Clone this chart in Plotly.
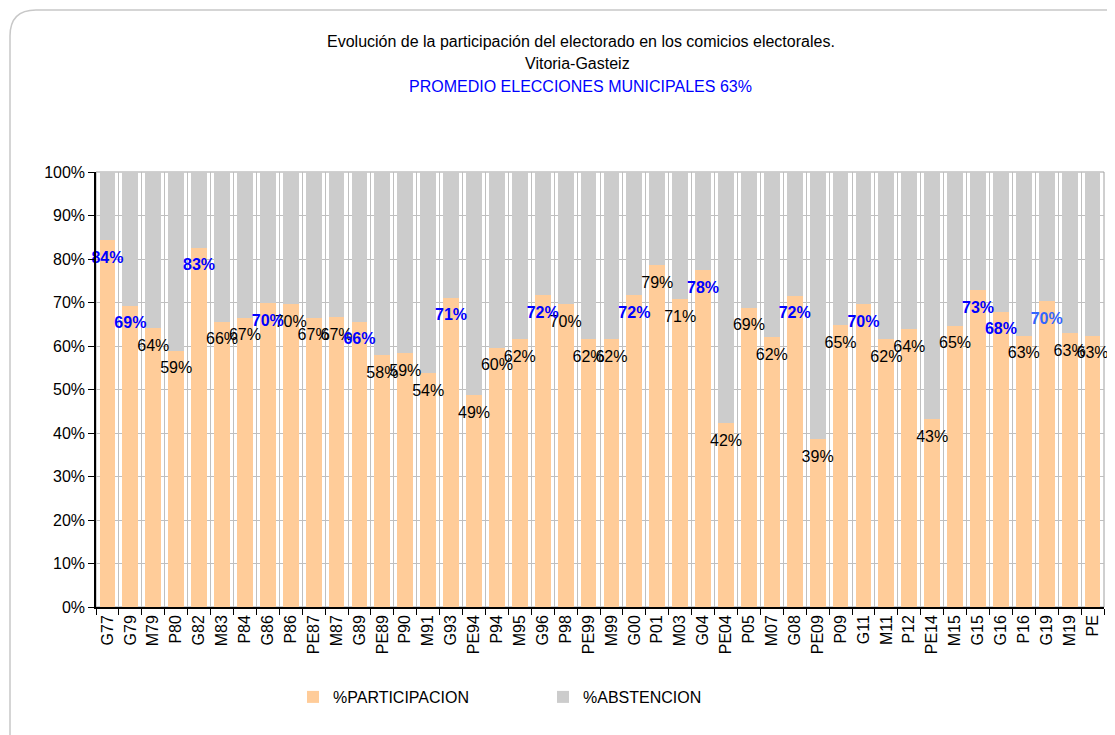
import plotly.graph_objects as go

categories = ["G77", "G79", "M79", "P80", "G82", "M83", "P84", "G86", "P86", "PE87", "M87",
              "G89", "PE89", "P90", "M91", "G93", "PE94", "P94", "M95", "G96", "P98", "PE99",
              "M99", "G00", "P01", "M03", "G04", "PE04", "P05", "M07", "G08", "PE09", "P09",
              "G11", "M11", "P12", "PE14", "M15", "G15", "G16", "P16", "G19", "M19", "PE"]

participacion = [84.4, 69.3, 64.1, 58.9, 82.6, 65.6, 66.5, 69.9, 69.7, 66.5, 66.7,
                 65.6, 57.9, 58.4, 53.8, 71.1, 48.7, 59.6, 61.6, 71.7, 69.7, 61.6,
                 61.6, 71.7, 78.6, 70.7, 77.5, 42.3, 68.8, 62.1, 71.6, 38.6, 64.8,
                 69.7, 61.5, 63.9, 43.2, 64.7, 72.9, 67.9, 62.4, 70.3, 63.0, 62.4]

abstencion = [round(100 - v, 1) for v in participacion]

labels = ["84%", "69%", "64%", "59%", "83%", "66%", "67%", "70%", "70%", "67%", "67%",
          "66%", "58%", "59%", "54%", "71%", "49%", "60%", "62%", "72%", "70%", "62%",
          "62%", "72%", "79%", "71%", "78%", "42%", "69%", "62%", "72%", "39%", "65%",
          "70%", "62%", "64%", "43%", "65%", "73%", "68%", "63%", "70%", "63%", "63%"]

LABEL_OFFSET = 4.3
FONT = "Liberation Sans, Arial, sans-serif"

fig = go.Figure()
fig.add_trace(go.Bar(x=categories, y=participacion, name="%PARTICIPACION",
                     marker=dict(color="#FFCC99", line=dict(width=0)), hoverinfo="x+y"))
fig.add_trace(go.Bar(x=categories, y=abstencion, name="%ABSTENCION",
                     marker=dict(color="#CCCCCC", line=dict(width=0)), hoverinfo="x+y"))

g_idx = [i for i, c in enumerate(categories) if c.startswith("G")]
o_idx = [i for i, c in enumerate(categories) if not c.startswith("G")]

fig.add_trace(go.Scatter(
    x=[categories[i] for i in o_idx],
    y=[participacion[i] - LABEL_OFFSET for i in o_idx],
    text=[labels[i] for i in o_idx],
    mode="text", textposition="middle center", cliponaxis=False,
    textfont=dict(family=FONT, size=16, color="#000000"),
    showlegend=False, hoverinfo="skip"))

fig.add_trace(go.Scatter(
    x=[categories[i] for i in g_idx],
    y=[participacion[i] - LABEL_OFFSET for i in g_idx],
    text=["<b>" + labels[i] + "</b>" for i in g_idx],
    mode="text", textposition="middle center", cliponaxis=False,
    textfont=dict(family=FONT, size=16,
                  color=["#3366FF" if categories[i] == "G19" else "#0000FF" for i in g_idx]),
    showlegend=False, hoverinfo="skip"))

# the page body adds an 8px margin; the figure is sized so that the plot area
# sits at window pixels x 96..1104, y 172..607
OFF = 8
W, H = 1115 - OFF, 735 - OFF
L, T = 96 - OFF, 172 - OFF
R = W - (1104 - OFF)
B = H - (607 - OFF)
pw, ph = W - L - R, H - T - B

def px(xw):
    return (xw - OFF - L) / pw

def py(yw):
    return (H - B - (yw - OFF)) / ph

shapes = [
    dict(type="rect", xref="paper", yref="paper", x0=0, x1=1, y0=0, y1=1,
         line=dict(color="#A0A0A0", width=1), layer="below"),
    dict(type="path", xref="paper", yref="paper",
         path=(f"M {px(10)} {py(745)} L {px(10)} {py(36)} "
               f"Q {px(10)} {py(10)} {px(36)} {py(10)} L {px(1125)} {py(10)}"),
         line=dict(color="#C8C8C8", width=1.5)),
]

annotations = [
    dict(text="Evolución de la participación del electorado en los comicios electorales.",
         xref="paper", yref="paper", x=px(581), y=py(41), xanchor="center", yanchor="middle",
         showarrow=False, font=dict(family=FONT, size=16, color="#000000")),
    dict(text="Vitoria-Gasteiz", xref="paper", yref="paper", x=px(577), y=py(63),
         xanchor="center", yanchor="middle",
         showarrow=False, font=dict(family=FONT, size=16, color="#000000")),
    dict(text="PROMEDIO ELECCIONES MUNICIPALES 63%", xref="paper", yref="paper",
         x=px(580), y=py(87), xanchor="center", yanchor="middle", showarrow=False,
         font=dict(family=FONT, size=16, color="#0000FF")),
]

fig.update_layout(
    width=W, height=H,
    barmode="stack", bargap=0.31,
    paper_bgcolor="white", plot_bgcolor="white",
    margin=dict(l=L, r=R, t=T, b=B, autoexpand=False),
    font=dict(family=FONT, size=16, color="#000000"),
    showlegend=True,
    legend=dict(orientation="h", traceorder="normal",
                x=px(293), y=py(697), xanchor="left", yanchor="middle",
                entrywidth=205, entrywidthmode="pixels",
                font=dict(family=FONT, size=16, color="#000000"),
                itemclick=False, itemdoubleclick=False),
    shapes=shapes,
    annotations=annotations,
)

fig.update_xaxes(type="category", tickson="boundaries", showgrid=True,
                 gridcolor="#BFBFBF", gridwidth=1,
                 ticks="outside", ticklen=6, tickcolor="#000000",
                 tickangle=-90, tickfont=dict(family=FONT, size=16, color="#000000"),
                 showline=True, linecolor="#000000", linewidth=1.5,
                 range=[-0.5, len(categories) - 0.5])
fig.update_yaxes(range=[0, 100], dtick=10, ticksuffix="%", showgrid=True,
                 gridcolor="#BFBFBF", gridwidth=1,
                 ticks="outside", ticklen=6, tickcolor="#000000",
                 tickfont=dict(family=FONT, size=16, color="#000000"),
                 showline=True, linecolor="#000000", linewidth=1.5, zeroline=False)

fig.write_html("out.html")
